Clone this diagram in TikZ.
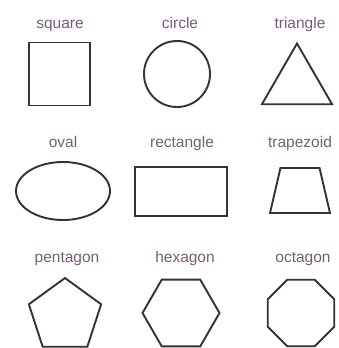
\documentclass[tikz,border=0pt]{standalone}
\usepackage{fontspec}
\setmainfont{Liberation Sans}
\usepackage{tikz}
\usetikzlibrary{shapes.geometric,positioning}
\definecolor{shapeline}{HTML}{333333}
\definecolor{labelink}{HTML}{765E78}

\begin{document}
\begin{tikzpicture}[
  x=1pt,y=-1pt,
  shp/.style={draw=shapeline,line width=1.9pt,inner sep=0pt,outer sep=0pt},
  poly/.style={shp,regular polygon,regular polygon sides=#1},
  lbl/.style={text=labelink,font=\fontsize{15.5}{17}\selectfont,inner sep=0pt,text height=11pt,text depth=3pt}
]
\useasboundingbox (0,0) rectangle (338,348);
% first row
\node[shp,rectangle,minimum width=61pt,minimum height=63pt] (sq) at (59.5,74) {};
\node[shp,circle,minimum size=66pt] (circ) at (177,74) {};
\node[poly=3,minimum size=81pt] (tri) at (297,84) {};
\node[lbl] (sqlbl) at (60,24) {square};
\node[lbl] (circlbl) at (180,24) {circle};
\node[lbl] (trilbl) at (300,24) {triangle};
% second row
\node[shp,ellipse,minimum width=94pt,minimum height=58pt] (ov) at (63,191) {};
\node[shp,rectangle,minimum width=92pt,minimum height=49pt] (rect) at (181,191.5) {};
\node[shp,trapezium,inner sep=1pt,trapezium stretches=true,trapezium left angle=75,trapezium right angle=75,minimum width=60pt,minimum height=45pt] (trap) at (300,190.5) {};
\node[lbl] (ovlbl) at (63,143) {oval};
\node[lbl] (rectlbl) at (182,143) {rectangle};
\node[lbl] (traplbl) at (300,143) {trapezoid};
% third row
\node[poly=5,minimum size=76pt] (pent) at (65,316) {};
\node[poly=6,minimum size=77pt] (hex) at (181,313) {};
\node[poly=8,minimum size=72pt] (oct) at (301,313) {};
\node[lbl] (pentlbl) at (67,258) {pentagon};
\node[lbl] (hexlbl) at (185,258) {hexagon};
\node[lbl] (octlbl) at (303,258) {octagon};
\end{tikzpicture}
\end{document}
